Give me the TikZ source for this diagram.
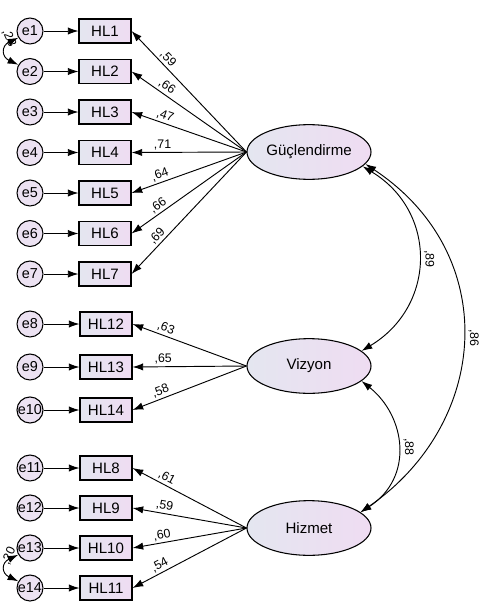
\documentclass[tikz,border=0pt]{standalone}
\usepackage{fontspec}
\setmainfont{Liberation Sans}
\usepackage{tikz}
\usetikzlibrary{shapes,arrows,positioning,calc,arrows.meta}
\definecolor{fillL}{HTML}{E4E6F0}
\definecolor{fillR}{HTML}{EFDCF2}
\definecolor{errfill}{HTML}{ECE2F2}

\begin{document}
\begin{tikzpicture}[x=0.75pt,y=-0.75pt,
    err/.style={circle, draw, line width=0.8pt, fill=errfill, minimum size=19.5pt, inner sep=0pt, font=\fontsize{10.8}{12}\selectfont},
    obs/.style={rectangle, draw, line width=0.8pt, left color=fillL, right color=fillR, minimum width=39pt, minimum height=18pt, inner sep=0pt, font=\fontsize{11.3}{13}\selectfont},
    lat/.style={ellipse, draw, line width=0.8pt, left color=fillL, right color=fillR, minimum width=93pt, minimum height=41pt, inner sep=0pt, font=\fontsize{11.3}{13}\selectfont},
    load/.style={line width=0.7pt, -{Latex[length=8pt,width=5.5pt]}},
    cov/.style={line width=0.7pt, {Latex[length=8pt,width=5.5pt]}-{Latex[length=8pt,width=5.5pt]}},
    lbl/.style={font=\fontsize{9.3}{10}\selectfont, inner sep=1.5pt, sloped, above, pos=0.73},
    clbl/.style={font=\fontsize{9.3}{10}\selectfont, inner sep=4pt, rotate=-90, anchor=south, pos=0.5}]
    \useasboundingbox (0,0) rectangle (492,604);

    % latent factors
    \node[lat] (G) at (309,152) {Güçlendirme};
    \node[lat] (V) at (309,366) {Vizyon};
    \node[lat] (H) at (309,528) {Hizmet};

    % Güçlendirme items
    \node[obs] (hl1) at (105,31) {HL1};
    \node[obs] (hl2) at (105,71.5) {HL2};
    \node[obs] (hl3) at (105,112) {HL3};
    \node[obs] (hl4) at (105,152.5) {HL4};
    \node[obs] (hl5) at (105,193) {HL5};
    \node[obs] (hl6) at (105,233.5) {HL6};
    \node[obs] (hl7) at (105,274) {HL7};
    % Vizyon items
    \node[obs] (hl12) at (106,324) {HL12};
    \node[obs] (hl13) at (106,367) {HL13};
    \node[obs] (hl14) at (106,410) {HL14};
    % Hizmet items
    \node[obs] (hl8) at (106,468) {HL8};
    \node[obs] (hl9) at (106,508) {HL9};
    \node[obs] (hl10) at (106,548) {HL10};
    \node[obs] (hl11) at (106,588) {HL11};

    % error terms
    \node[err] (e1) at (30,31) {e1};
    \node[err] (e2) at (30,71.5) {e2};
    \node[err] (e3) at (30,112) {e3};
    \node[err] (e4) at (30,152.5) {e4};
    \node[err] (e5) at (30,193) {e5};
    \node[err] (e6) at (30,233.5) {e6};
    \node[err] (e7) at (30,274) {e7};
    \node[err] (e8) at (30,324) {e8};
    \node[err] (e9) at (30,367) {e9};
    \node[err] (e10) at (30,410) {e10};
    \node[err] (e11) at (30,468) {e11};
    \node[err] (e12) at (30,508) {e12};
    \node[err] (e13) at (30,548) {e13};
    \node[err] (e14) at (30,588) {e14};

    \draw[load] (e1) -- (hl1);
    \draw[load] (e2) -- (hl2);
    \draw[load] (e3) -- (hl3);
    \draw[load] (e4) -- (hl4);
    \draw[load] (e5) -- (hl5);
    \draw[load] (e6) -- (hl6);
    \draw[load] (e7) -- (hl7);
    \draw[load] (e8) -- (hl12);
    \draw[load] (e9) -- (hl13);
    \draw[load] (e10) -- (hl14);
    \draw[load] (e11) -- (hl8);
    \draw[load] (e12) -- (hl9);
    \draw[load] (e13) -- (hl10);
    \draw[load] (e14) -- (hl11);

    % factor loadings
    \draw[load] (G.west) -- node[lbl] {,59} (hl1.east);
    \draw[load] (G.west) -- node[lbl] {,66} (hl2.east);
    \draw[load] (G.west) -- node[lbl] {,47} (hl3.east);
    \draw[load] (G.west) -- node[lbl] {,71} (hl4.east);
    \draw[load] (G.west) -- node[lbl] {,64} (hl5.east);
    \draw[load] (G.west) -- node[lbl] {,66} (hl6.east);
    \draw[load] (G.west) -- node[lbl] {,69} (hl7.east);
    \draw[load] (V.west) -- node[lbl] {,63} (hl12.east);
    \draw[load] (V.west) -- node[lbl] {,65} (hl13.east);
    \draw[load] (V.west) -- node[lbl] {,58} (hl14.east);
    \draw[load] (H.west) -- node[lbl] {,61} (hl8.east);
    \draw[load] (H.west) -- node[lbl] {,59} (hl9.east);
    \draw[load] (H.west) -- node[lbl] {,60} (hl10.east);
    \draw[load] (H.west) -- node[lbl] {,54} (hl11.east);

    % factor correlations
    \draw[cov] (G.-15) .. controls +(75,45) and +(75,-45) .. node[clbl] {,89} (V.16);
    \draw[cov] (V.-16) .. controls +(44,35) and +(54,-35) .. node[clbl] {,88} (H.17);
    \draw[cov] (G.-12) .. controls +(136,90) and +(130,-90) .. node[clbl] {,86} (H.17);

    % error correlations
    \draw[cov] (e1.210) .. controls +(-17,8) and +(-17,-8) .. (e2.150);
    \node[font=\fontsize{9.3}{10}\selectfont, rotate=-65] (c12) at (9,38) {,23};
    \draw[cov] (e13.210) .. controls +(-17,8) and +(-17,-8) .. (e14.150);
    \node[font=\fontsize{9.3}{10}\selectfont, rotate=65] (c1314) at (9,556) {,20};
\end{tikzpicture}
\end{document}
